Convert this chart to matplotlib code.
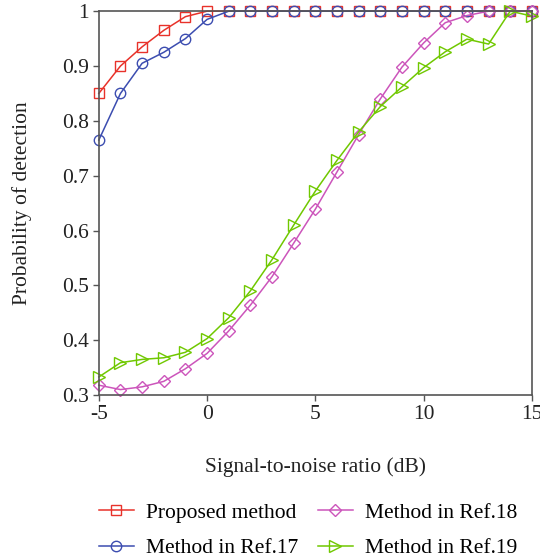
import matplotlib
matplotlib.use("Agg")
import matplotlib.pyplot as plt

snr = list(range(-5, 16))
proposed = [0.85, 0.90, 0.935, 0.965, 0.99, 1.0] + [1.0] * 15
ref17 = [0.765, 0.85, 0.905, 0.925, 0.95, 0.985] + [1.0] * 15
ref18 = [0.318, 0.310, 0.315, 0.325, 0.348, 0.376, 0.417, 0.464, 0.516, 0.577,
         0.639, 0.707, 0.775, 0.840, 0.898, 0.942, 0.979, 0.992, 1.0, 1.0, 1.0]
ref19 = [0.333, 0.359, 0.365, 0.368, 0.378, 0.403, 0.441, 0.490, 0.547, 0.610,
         0.672, 0.728, 0.780, 0.826, 0.862, 0.897, 0.926, 0.949, 0.940, 1.0, 0.991]

labels = ["Proposed method", "Method in Ref.17", "Method in Ref.18", "Method in Ref.19"]
colors = ["#e8322a", "#3c4db0", "#cc55bb", "#70c800"]
markers = ["s", "o", "D", ">"]
msizes = [6.5, 7.5, 6.5, 8.5]

plt.rcParams['font.family'] = ['Liberation Serif', 'DejaVu Serif']
FS = 15.5

fig = plt.figure(figsize=(5.4, 5.58), dpi=100)
ax = fig.add_axes([0.183, 0.292, 0.802, 0.688])

for ys, c, m, ms, lab in zip([proposed, ref17, ref18, ref19], colors, markers, msizes, labels):
    ax.plot(snr, ys, color=c, marker=m, markersize=ms, markerfacecolor='none',
            markeredgecolor=c, markeredgewidth=1.0, linewidth=1.1, label=lab, clip_on=False)

ax.set_xlim(-5, 15)
ax.set_ylim(0.3, 1.0)
ax.set_xticks([-5, 0, 5, 10, 15])
ax.set_xticklabels(["-5", "0", "5", "10", "15"])
ax.set_yticks([0.3, 0.4, 0.5, 0.6, 0.7, 0.8, 0.9, 1.0])
ax.set_yticklabels(["0.3", "0.4", "0.5", "0.6", "0.7", "0.8", "0.9", "1"])
for s in ax.spines.values():
    s.set_color("#555555")
    s.set_linewidth(1.2)
ax.tick_params(direction='out', length=4, width=1, colors="#555555", labelcolor="#222222",
               labelsize=FS, pad=3)

ax.set_xlabel("Signal-to-noise ratio (dB)", fontsize=FS, color="#222222", labelpad=24)
ax.set_ylabel("Probability of detection", fontsize=FS, color="#222222", labelpad=22)

fig.legend(loc="upper left", bbox_to_anchor=(0.1665, 0.115), ncol=2, frameon=False,
           fontsize=FS, handlelength=1.65, columnspacing=0.9, labelspacing=0.72,
           handletextpad=0.55, borderaxespad=0.0)

fig.savefig("out.png", dpi=100)
